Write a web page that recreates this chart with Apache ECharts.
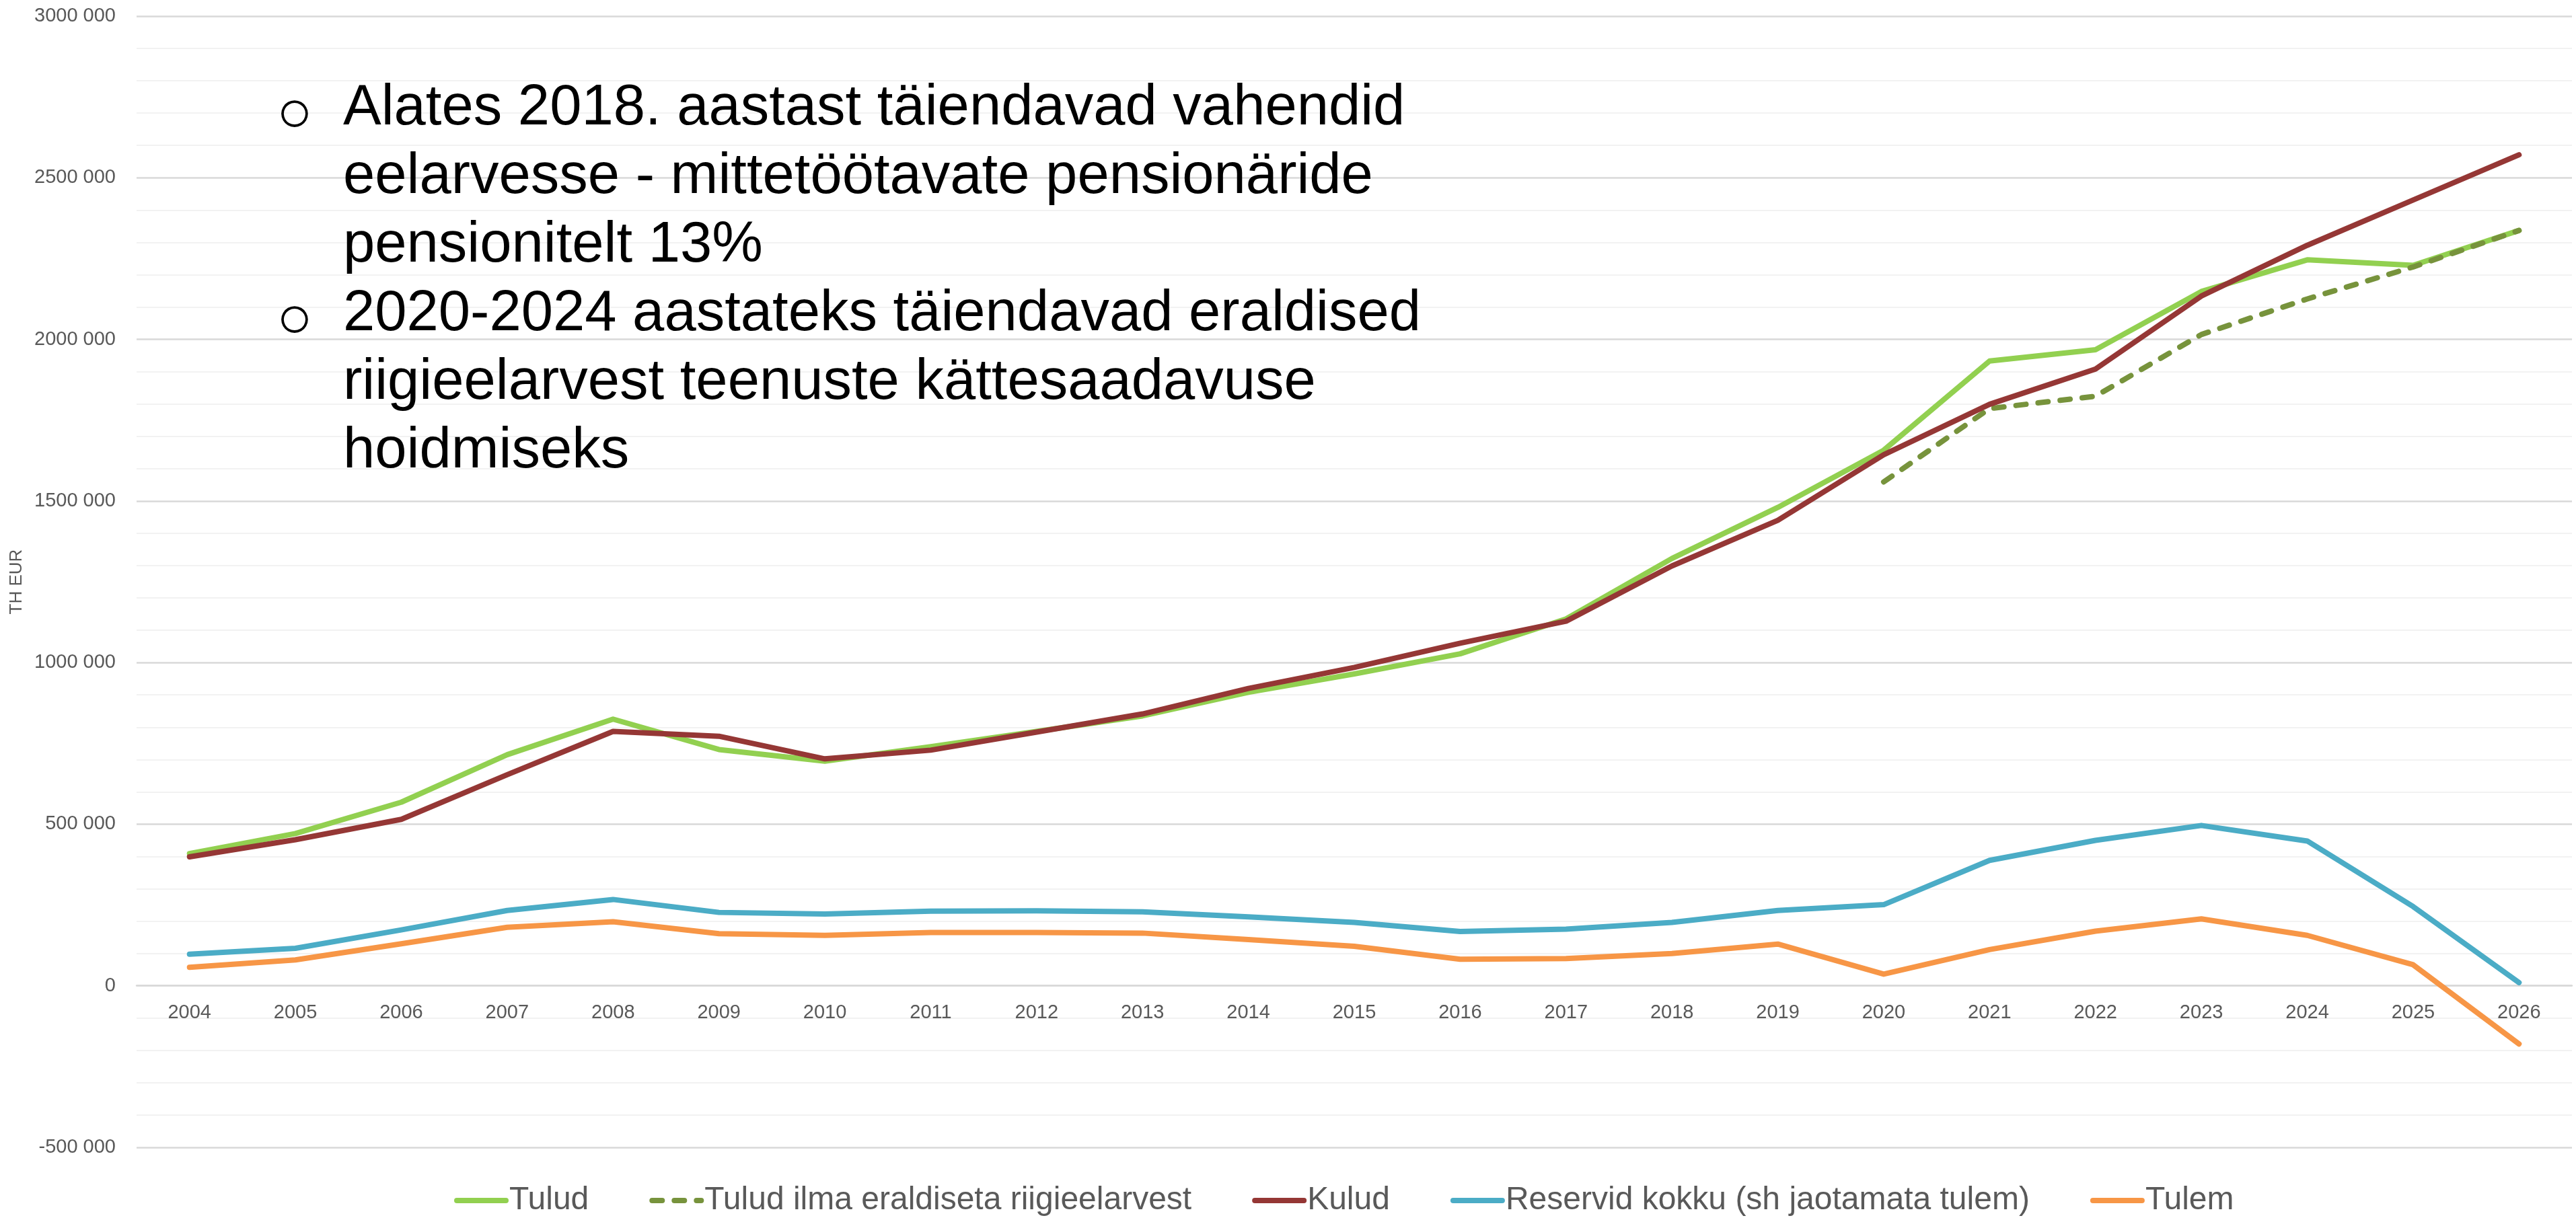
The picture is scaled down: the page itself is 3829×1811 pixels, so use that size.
<!DOCTYPE html>
<html><head><meta charset="utf-8">
<script src="https://cdn.jsdelivr.net/npm/echarts@6/dist/echarts.min.js"></script>
<style>html,body{margin:0;padding:0;background:#fff}#c{width:3829px;height:1811px}</style>
</head><body><div id="c"></div>
<script>
const years = ['2004','2005','2006','2007','2008','2009','2010','2011','2012','2013','2014','2015','2016','2017','2018','2019','2020','2021','2022','2023','2024','2025','2026'];
const tulud = [409000,471000,568000,715000,825000,731000,695000,740000,787000,835000,908000,965000,1027000,1135000,1322000,1480000,1657000,1933000,1968000,2148000,2246000,2229000,2337000];
const tuludIlma = [null,null,null,null,null,null,null,null,null,null,null,null,null,null,null,null,1559000,1786000,1824000,2015000,2125000,2224000,2337000];
const kulud = [399000,452000,515000,653000,787000,772000,702000,729000,785000,841000,920000,985000,1060000,1128000,1299000,1440000,1643000,1799000,1908000,2134000,2291000,2431000,2571000];
const reservid = [97600,116000,173000,233000,267000,227000,222000,231000,232000,229000,213000,196000,168000,175000,196000,233000,251000,388000,450000,496000,448000,245000,10000];
const tulem = [57000,80000,130000,181000,198000,161000,156000,165000,165000,163000,143000,122000,82000,84000,100000,129000,36000,112000,169000,207000,156000,65000,-180000];
const yTickLabels = ['-500 000','0','500 000','1000 000','1500 000','2000 000','2500 000','3000 000'];
const seriesNames = ['Tulud','Tulud ilma eraldiseta riigieelarvest','Kulud','Reservid kokku (sh jaotamata tulem)','Tulem'];
const noteLines = ['Alates 2018. aastast täiendavad vahendid','eelarvesse - mittetöötavate pensionäride','pensionitelt 13%','2020-2024 aastateks täiendavad eraldised','riigieelarvest teenuste kättesaadavuse','hoidmiseks'];
const bulletText = '○\n\n\n○';

const yMin = -500000, yMax = 3000000, yStep = 500000;
const GRID_TOP = 24, GRID_BOTTOM = 105, H = 1811;
const plotH = H - GRID_TOP - GRID_BOTTOM;
const zeroOffset = plotH * (0 - yMin) / (yMax - yMin);
const FONT = '"Liberation Sans", Arial, sans-serif';
const chart = echarts.init(document.getElementById('c'));
function line(name, data, color, extra) {
  return Object.assign({
    name, type: 'line', data, symbol: 'none', connectNulls: false,
    lineStyle: { color, width: 8, cap: 'round', join: 'round' },
    itemStyle: { color }
  }, extra || {});
}
chart.setOption({
  animation: false,
  textStyle: { fontFamily: FONT },
  grid: { left: 203, right: 6, top: GRID_TOP, bottom: GRID_BOTTOM, containLabel: false },
  xAxis: {
    type: 'category', data: years, boundaryGap: true,
    offset: -zeroOffset,
    axisTick: { show: false },
    axisLine: { show: true, onZero: false, lineStyle: { color: '#d9d9d9', width: 2.5 } },
    axisLabel: { color: '#595959', fontSize: 29, margin: 26, interval: 0, fontFamily: FONT }
  },
  yAxis: {
    type: 'value', min: yMin, max: yMax, interval: yStep,
    name: 'TH EUR', nameLocation: 'middle', nameGap: 165,
    nameTextStyle: { color: '#595959', fontSize: 26, fontFamily: FONT },
    axisLine: { show: false }, axisTick: { show: false },
    axisLabel: { color: '#595959', fontSize: 29, margin: 31, fontFamily: FONT,
      formatter: v => yTickLabels[Math.round((v - yMin) / yStep)] },
    splitLine: { lineStyle: { color: '#d9d9d9', width: 2.5 } },
    minorTick: { show: false, splitNumber: 5 },
    minorSplitLine: { show: true, lineStyle: { color: '#f2f2f2', width: 2 } }
  },
  legend: {
    data: seriesNames, left: 670, top: 1756, itemWidth: 73, itemHeight: 14, itemGap: 90,
    textStyle: { color: '#595959', fontSize: 48, fontFamily: FONT },
    lineStyle: { width: 8 },
    itemStyle: { opacity: 0 }
  },
  graphic: [
    { type: 'text', x: 510, y: 111, z: 100, silent: true,
      style: { text: noteLines.join('\n'), font: '85px ' + FONT, fill: '#000', lineHeight: 102, align: 'left', verticalAlign: 'top' } },
    { type: 'text', x: 438, y: 120, z: 100, silent: true,
      style: { text: bulletText, font: '90px ' + FONT, fill: '#000', lineHeight: 102, align: 'center', verticalAlign: 'top' } }
  ],
  series: [
    line(seriesNames[0], tulud, '#92D050'),
    line(seriesNames[1], tuludIlma, '#77933C', { lineStyle: { color: '#77933C', width: 8, type: [15, 18], cap: 'round', join: 'round' } }),
    line(seriesNames[2], kulud, '#953735'),
    line(seriesNames[3], reservid, '#4BACC6'),
    line(seriesNames[4], tulem, '#F79646')
  ]
});
</script></body></html>
